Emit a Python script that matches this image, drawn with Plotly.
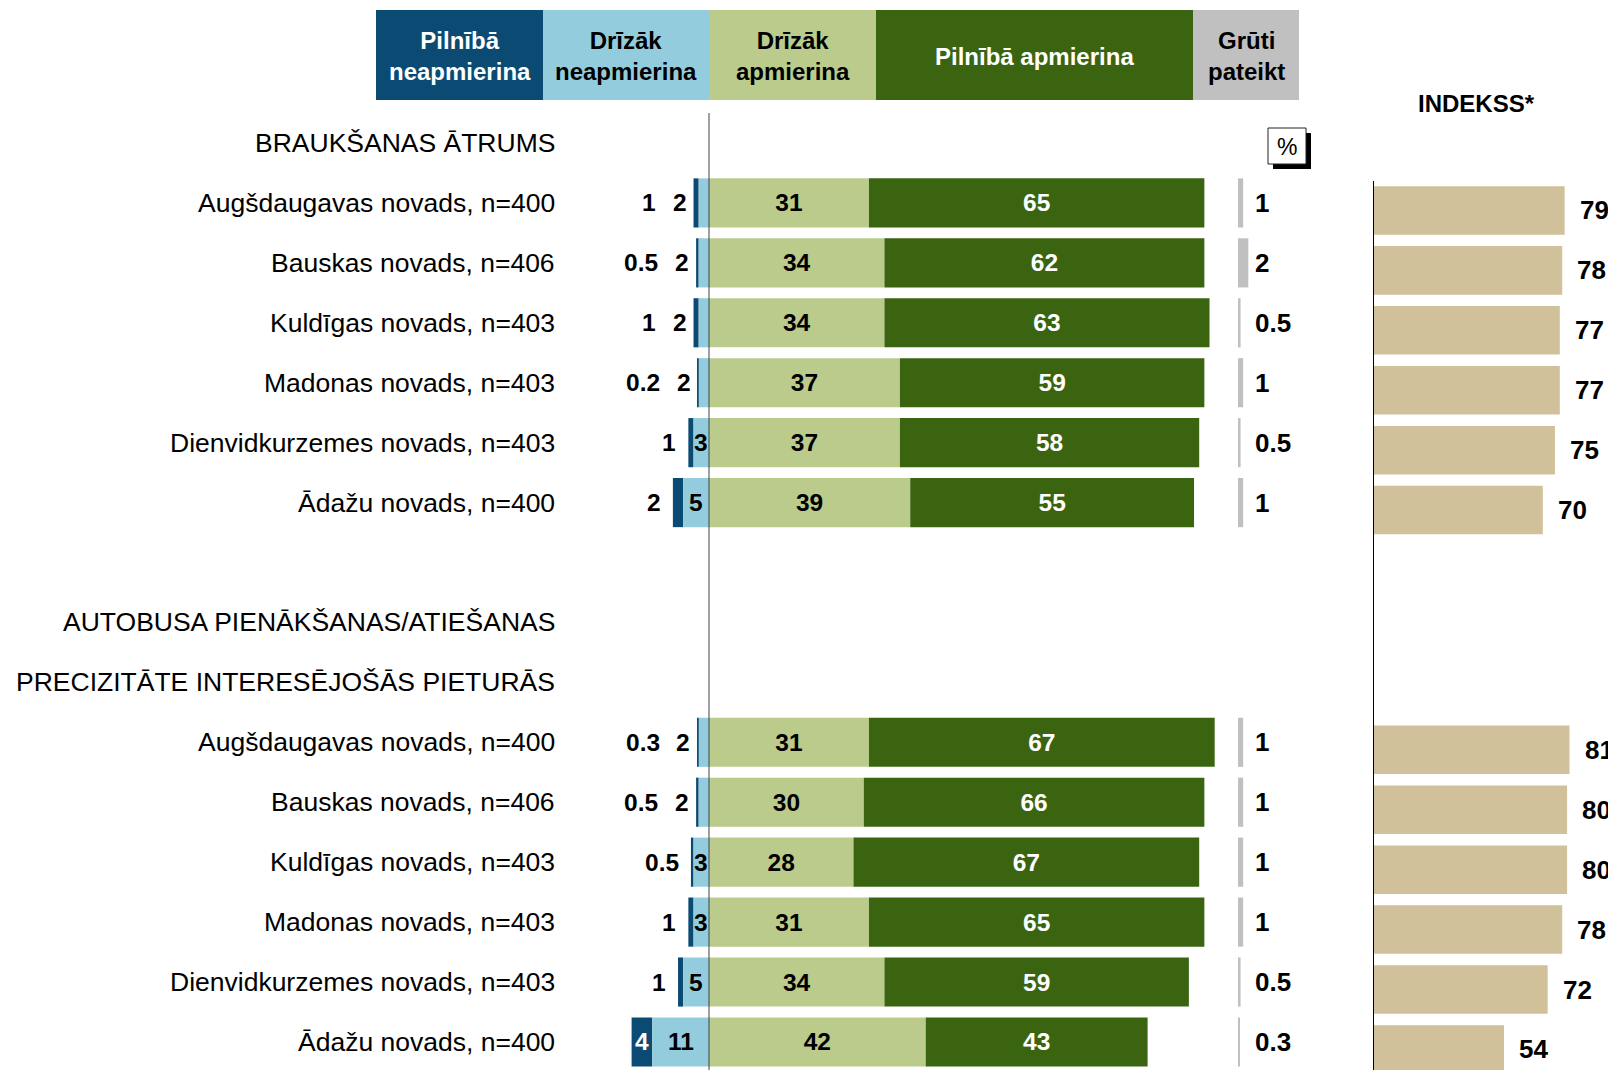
import plotly.graph_objects as go

# ---------------- data ----------------
regions = ["Augšdaugavas novads, n=400", "Bauskas novads, n=406", "Kuldīgas novads, n=403",
           "Madonas novads, n=403", "Dienvidkurzemes novads, n=403", "Ādažu novads, n=400"]
section_titles = [["BRAUKŠANAS ĀTRUMS"],
                  ["AUTOBUSA PIENĀKŠANAS/ATIEŠANAS", "PRECIZITĀTE INTERESĒJOŠĀS PIETURĀS"]]

full_dis_1 = [1, 0.5, 1, 0.2, 1, 2]
rather_dis_1 = [2, 2, 2, 2, 3, 5]
rather_sat_1 = [31, 34, 34, 37, 37, 39]
full_sat_1 = [65, 62, 63, 59, 58, 55]
hard_1 = [1, 2, 0.5, 1, 0.5, 1]
index_1 = [79, 78, 77, 77, 75, 70]

full_dis_2 = [0.3, 0.5, 0.5, 1, 1, 4]
rather_dis_2 = [2, 2, 3, 3, 5, 11]
rather_sat_2 = [31, 30, 28, 31, 34, 42]
full_sat_2 = [67, 66, 67, 65, 59, 43]
hard_2 = [1, 1, 1, 1, 0.5, 0.3]
index_2 = [81, 80, 80, 78, 72, 54]

legend_names = ["Pilnībā<br>neapmierina", "Drīzāk<br>neapmierina", "Drīzāk<br>apmierina",
                "Pilnībā apmierina", "Grūti<br>pateikt"]
index_title = "INDEKSS*"

# ---------------- style ----------------
C_DARKBLUE = "#0b4a72"
C_LIGHTBLUE = "#93cddd"
C_LIGHTGREEN = "#bacb8c"
C_DARKGREEN = "#3a6410"
C_GRAY = "#c0c0c0"
C_TAN = "#d1c19a"
FONT = "Liberation Sans, Arial, sans-serif"

OFF = 8                     # page body margin
W, H = 1616 - OFF, 1070 - OFF   # figure size
X0 = 709            # page px of the zero line
PPP = 5.16          # px per percent
Y0 = 143            # page px of row 0 centre
ROW = 59.93         # px per row
IDX_PPU = 2.426     # px per index unit
IDX_X0 = 1373
HARD_X0 = 1238
BAR_W = 0.82
LABEL_RIGHT = 557

def px(x):
    return (x - OFF) / W

def py(y):
    return 1 - (y - OFF) / H

def fmt(v):
    return ("%g" % v)

# ---------------- row layout ----------------
header_rows = []
data_rows = []
pos = 0
for s, titles in enumerate(section_titles):
    if s > 0:
        pos += 1
    for t in titles:
        header_rows.append((pos, t))
        pos += 1
    for k in range(len(regions)):
        data_rows.append((pos, s, k))
        pos += 1

sets = [
    (full_dis_1, rather_dis_1, rather_sat_1, full_sat_1, hard_1, index_1),
    (full_dis_2, rather_dis_2, rather_sat_2, full_sat_2, hard_2, index_2),
]
ys, FD, RD, RS, FS, HD, IX, LBL = [], [], [], [], [], [], [], []
for (p, s, k) in data_rows:
    fd, rd, rs, fs, hd, ix = (a[k] for a in sets[s])
    ys.append(p); FD.append(fd); RD.append(rd); RS.append(rs); FS.append(fs); HD.append(hd); IX.append(ix)
    LBL.append(regions[k])

fig = go.Figure()

fig.add_trace(go.Bar(y=ys, x=FD, base=[-(a + b) for a, b in zip(FD, RD)], orientation="h",
                     width=BAR_W, marker=dict(color=C_DARKBLUE, line=dict(width=0)), hoverinfo="skip"))
fig.add_trace(go.Bar(y=ys, x=RD, base=[-b for b in RD], orientation="h",
                     width=BAR_W, marker=dict(color=C_LIGHTBLUE, line=dict(width=0)), hoverinfo="skip"))
fig.add_trace(go.Bar(y=ys, x=RS, base=[0] * len(RS), orientation="h", width=BAR_W,
                     marker=dict(color=C_LIGHTGREEN, line=dict(width=0)),
                     text=[fmt(v) for v in RS], textposition="inside", insidetextanchor="middle",
                     textangle=0, constraintext="none",
                     textfont=dict(family=FONT, size=24.5, color="black", weight="bold"), hoverinfo="skip"))
fig.add_trace(go.Bar(y=ys, x=FS, base=RS, orientation="h", width=BAR_W,
                     marker=dict(color=C_DARKGREEN, line=dict(width=0)),
                     text=[fmt(v) for v in FS], textposition="inside", insidetextanchor="middle",
                     textangle=0, constraintext="none",
                     textfont=dict(family=FONT, size=24.5, color="white", weight="bold"), hoverinfo="skip"))
fig.add_trace(go.Bar(y=ys, x=HD, base=[0] * len(HD), orientation="h", width=BAR_W,
                     xaxis="x2", yaxis="y",
                     marker=dict(color=C_GRAY, line=dict(width=0)), hoverinfo="skip"))
fig.add_trace(go.Bar(y=ys, x=IX, base=[0] * len(IX), orientation="h", width=0.81,
                     xaxis="x3", yaxis="y2",
                     marker=dict(color=C_TAN, line=dict(width=0)), hoverinfo="skip"))

ann = []
bold = dict(family=FONT, size=24.5, color="black", weight="bold")

def digits_w(t, size=24.5):
    w = 0
    for ch in t:
        w += 0.278 if ch == "." else 0.556
    return w * size

for y, fd, rd, hd, ix, lbl in zip(ys, FD, RD, HD, IX, LBL):
    left = -(fd + rd)
    ann.append(dict(xref="paper", yref="y", x=px(LABEL_RIGHT), y=y, text=lbl, xanchor="right", yanchor="middle",
                    showarrow=False, font=dict(family=FONT, size=26.5, color="black")))
    if rd >= 3:
        ann.append(dict(xref="x", yref="y", x=-rd / 2, y=y, text=fmt(rd), xanchor="center", yanchor="middle",
                        showarrow=False, font=bold))
        if fd >= 4:
            ann.append(dict(xref="x", yref="y", x=-(rd + fd / 2), y=y, text=fmt(fd), xanchor="center",
                            yanchor="middle", showarrow=False, font=dict(bold, color="white")))
        else:
            ann.append(dict(xref="x", yref="y", x=left, y=y, text=fmt(fd), xanchor="right", yanchor="middle",
                            xshift=-10, showarrow=False, font=bold))
    else:
        ann.append(dict(xref="x", yref="y", x=left, y=y, text=fmt(rd), xanchor="right", yanchor="middle",
                        xshift=-5, showarrow=False, font=bold))
        ann.append(dict(xref="x", yref="y", x=left, y=y, text=fmt(fd), xanchor="right", yanchor="middle",
                        xshift=-(5 + digits_w(fmt(rd)) + 17), showarrow=False, font=bold))
    ann.append(dict(xref="x2", yref="y", x=0, y=y, text=fmt(hd), xanchor="left", yanchor="middle",
                    xshift=15, showarrow=False, font=dict(bold, size=26)))
    ann.append(dict(xref="x3", yref="y2", x=ix, y=y, text=fmt(ix), xanchor="left", yanchor="middle",
                    xshift=13, showarrow=False, font=dict(bold, size=26)))

for (p, t) in header_rows:
    ann.append(dict(xref="paper", yref="y", x=px(LABEL_RIGHT), y=p, text=t, xanchor="right", yanchor="middle",
                    showarrow=False, font=dict(family=FONT, size=26.5, color="black")))

# legend header boxes
shapes = []
edges = [376, 543, 709, 876, 1193, 1299]
leg_colors = [C_DARKBLUE, C_LIGHTBLUE, C_LIGHTGREEN, C_DARKGREEN, C_GRAY]
leg_text_colors = ["white", "black", "black", "white", "black"]
for i, (name, col, tc) in enumerate(zip(legend_names, leg_colors, leg_text_colors)):
    x_a, x_b = edges[i], edges[i + 1]
    shapes.append(dict(type="rect", xref="paper", yref="paper", x0=px(x_a), x1=px(x_b),
                       y0=py(100), y1=py(10), fillcolor=col, line=dict(width=0), layer="above"))
    ann.append(dict(xref="paper", yref="paper", x=px((x_a + x_b) / 2), y=py(56), text=name,
                    xanchor="center", yanchor="middle", showarrow=False, align="center",
                    font=dict(family=FONT, size=24, color=tc, weight="bold")))

ann.append(dict(xref="paper", yref="paper", x=px(1476), y=py(103), text=index_title, xanchor="center",
                yanchor="middle", showarrow=False, font=dict(family=FONT, size=24, color="black", weight="bold")))

# % box with shadow
shapes.append(dict(type="rect", xref="paper", yref="paper", x0=px(1273), x1=px(1311),
                   y0=py(169), y1=py(133), fillcolor="black", line=dict(width=0)))
shapes.append(dict(type="rect", xref="paper", yref="paper", x0=px(1268), x1=px(1306),
                   y0=py(164), y1=py(128), fillcolor="white", line=dict(width=1, color="#222222")))
ann.append(dict(xref="paper", yref="paper", x=px(1287), y=py(147), text="%", xanchor="center",
                yanchor="middle", showarrow=False, font=dict(family=FONT, size=23, color="black")))

# zero line and index axis line
shapes.append(dict(type="line", xref="x", yref="paper", x0=0, x1=0, y0=0, y1=py(113),
                   line=dict(color="#404040", width=1), layer="above"))
shapes.append(dict(type="line", xref="x3", yref="paper", x0=0, x1=0, y0=0, y1=py(181),
                   line=dict(color="black", width=2), layer="above"))

yc0 = Y0 - OFF
fig.update_layout(
    width=W, height=H, margin=dict(l=0, r=0, t=0, b=0),
    paper_bgcolor="white", plot_bgcolor="rgba(0,0,0,0)",
    barmode="overlay", showlegend=False,
    font=dict(family=FONT),
    xaxis=dict(domain=[px(560), px(1232)], range=[(560 - X0) / PPP, (1232 - X0) / PPP],
               visible=False, fixedrange=True),
    xaxis2=dict(domain=[px(HARD_X0), px(1330)], range=[0, (1330 - HARD_X0) / PPP], anchor="y",
                visible=False),
    xaxis3=dict(domain=[px(IDX_X0), 1.0], range=[0, (1616 - IDX_X0) / IDX_PPU], anchor="y2",
                visible=False),
    yaxis=dict(domain=[0, 1], range=[(H - yc0) / ROW, -yc0 / ROW], visible=False),
    yaxis2=dict(domain=[0, 1], range=[(H - yc0 - 7.5) / ROW, (-yc0 - 7.5) / ROW], anchor="x3",
                visible=False),
    annotations=ann, shapes=shapes,
)

fig.write_html("out.html")
